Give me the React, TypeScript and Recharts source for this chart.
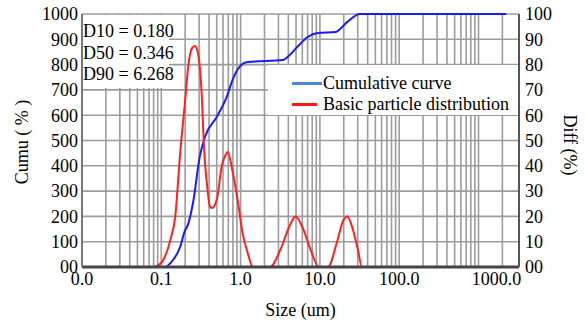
import { Customized, Legend, Line, LineChart, ReferenceLine, XAxis, YAxis } from "recharts";

// particle size (um) vs cumulative (left axis, 0-1000)
const cumSizes = [0.0207, 0.112, 0.13, 0.173, 0.2, 0.211, 0.251, 0.307, 0.355, 0.5, 0.668, 0.79, 0.97, 1.23, 3.45, 3.9, 5.2, 7.0, 9.4, 15.8, 22, 32, 2240];
const cumValues = [0, 0, 15, 80, 146, 158, 253, 440, 514, 593, 672, 739, 791, 810, 818, 830, 870, 909, 925, 929, 968, 1000, 1000];

// particle size (um) vs differential (right axis, 0-100)
const diffSizes = [0.084, 0.106, 0.13, 0.15, 0.173, 0.2, 0.218, 0.244, 0.266, 0.29, 0.326, 0.345, 0.376, 0.41, 0.434, 0.5, 0.58, 0.668, 0.688, 0.79, 0.917, 1.06, 1.23, 1.43, 2.35, 3.16, 4.25, 4.92, 6.23, 7.67, 9.7, 12.6, 16.7, 19.8, 22.2, 25.5, 30.2, 33.9, 2240];
const diffValues = [0, 2.8, 10.7, 20, 45, 66, 79, 86.5, 87.4, 84.5, 66, 47.5, 33, 24, 23.3, 26.5, 40, 45, 45.5, 38, 26.5, 13.4, 5.5, 0, 0, 6.7, 17, 20, 14.6, 6.7, 0, 0, 10.7, 18.6, 20, 15.8, 6.7, 0, 0];

const seriesNames = ["Cumulative curve", "Basic particle distribution"];
const legendIconColors = ["#4a86e0", "#ff1a1a"];
const sizeTicks = [0.01, 0.1, 1, 10, 100, 1000];
const cumTicks = [0, 100, 200, 300, 400, 500, 600, 700, 800, 900, 1000];
const diffTicks = [0, 10, 20, 30, 40, 50, 60, 70, 80, 90, 100];
const gridSizes = [
  0.02, 0.03, 0.04, 0.05, 0.06, 0.07, 0.08, 0.09, 0.1,
  0.2, 0.3, 0.4, 0.5, 0.6, 0.7, 0.8, 0.9, 1,
  2, 3, 4, 5, 6, 7, 8, 9, 10,
  20, 30, 40, 50, 60, 70, 80, 90, 100,
  200, 300, 400, 500, 600, 700, 800, 900, 1000, 2000,
];
const dLines = ["D10 = 0.180", "D50 = 0.346", "D90 = 6.268"];

const cumData = cumSizes.map((size, i) => ({ size, v: cumValues[i] }));
const diffData = diffSizes.map((size, i) => ({ size, v: diffValues[i] }));

const FONT = '"Liberation Serif", "Times New Roman", serif';
const tickStyle = { fill: "#000", fontSize: 18, fontFamily: FONT };
const GRID = "#9c9c9c";
const zeroFmt = (v: number) => (v === 0 ? "00" : String(v));

function SizeTick({ x, y, payload }: any) {
  // last label sits further right in the original
  const shift = payload.value === 1000 ? 18 : 0;
  return (
    <text x={x + shift} y={y} dy="0.71em" textAnchor="middle" {...tickStyle}>
      {Number(payload.value).toFixed(1)}
    </text>
  );
}

function Titles() {
  return (
    <g fontFamily={FONT} fontSize={18} fill="#000">
      <text x={22} y={142} transform="rotate(-90 22 142)" textAnchor="middle" dominantBaseline="central">
        Cumu ( % )
      </text>
      <text x={570} y={145} transform="rotate(90 570 145)" textAnchor="middle" dominantBaseline="central">
        Diff (%)
      </text>
    </g>
  );
}

function LegendBox() {
  return (
    <div style={{ background: "#fff", height: 50, paddingTop: 8, boxSizing: "border-box", fontFamily: FONT, fontSize: 18, color: "#000" }}>
      {seriesNames.map((name, i) => (
        <div key={name} style={{ display: "flex", alignItems: "center", height: 21, whiteSpace: "nowrap" }}>
          <span style={{ display: "inline-block", width: 31, marginLeft: 24 }}>
            <span style={{ display: "block", width: i === 0 ? 30 : 25, height: 3, background: legendIconColors[i] }} />
          </span>
          <span>{name}</span>
        </div>
      ))}
    </div>
  );
}

export default function App() {
  return (
    <div style={{ position: "absolute", left: 0, top: 0, width: 585, height: 322, background: "#fff" }}>
      <LineChart width={585} height={322} margin={{ top: 14, right: 0, bottom: 0, left: 0 }}>
        <XAxis
          dataKey="size"
          type="number"
          scale="log"
          domain={[0.01, 3240]}
          ticks={sizeTicks}
          interval={0}
          height={55}
          tickSize={0}
          tickMargin={5}
          tick={<SizeTick />}
          axisLine={{ stroke: "#444", strokeWidth: 3 }}
          label={{ value: "Size (um)", position: "insideBottom", offset: 6, fill: "#000", fontSize: 18, fontFamily: FONT }}
        />
        <YAxis
          yAxisId="left"
          domain={[0, 1000]}
          ticks={cumTicks}
          interval={0}
          width={82}
          tickSize={0}
          tickMargin={4}
          tick={tickStyle}
          tickFormatter={zeroFmt}
          axisLine={{ stroke: "#777", strokeWidth: 2 }}
        />
        <YAxis
          yAxisId="right"
          orientation="right"
          domain={[0, 100]}
          ticks={diffTicks}
          interval={0}
          width={66}
          tickSize={0}
          tickMargin={6}
          tick={tickStyle}
          tickFormatter={zeroFmt}
          axisLine={{ stroke: "#555", strokeWidth: 2 }}
        />
        {cumTicks.map((t) => (
          <ReferenceLine key={`h${t}`} yAxisId="left" y={t} stroke={GRID} strokeWidth={1.6} />
        ))}
        {gridSizes.map((s) => (
          <ReferenceLine key={`v${s}`} yAxisId="left" x={s} stroke={GRID} strokeWidth={1.6} />
        ))}
        <Line
          yAxisId="left"
          data={cumData}
          dataKey="v"
          name={seriesNames[0]}
          type="monotone"
          stroke="#1a1aff"
          strokeWidth={2}
          dot={false}
          isAnimationActive={false}
        />
        <Line
          yAxisId="right"
          data={diffData}
          dataKey="v"
          name={seriesNames[1]}
          type="monotone"
          stroke="#ff2020"
          strokeWidth={2}
          dot={false}
          isAnimationActive={false}
        />
        <Legend
          layout="vertical"
          align="center"
          verticalAlign="middle"
          content={<LegendBox />}
          wrapperStyle={{ left: 268, top: 65, width: 250 }}
        />
        <Customized component={Titles} />
      </LineChart>
      <div
        style={{
          position: "absolute",
          left: 83,
          top: 15,
          width: 86,
          height: 73,
          background: "#fff",
          paddingTop: 6,
          boxSizing: "border-box",
          fontFamily: FONT,
          fontSize: 18,
          lineHeight: "21.5px",
          color: "#000",
          whiteSpace: "nowrap",
        }}
      >
        {dLines.map((t) => (
          <div key={t}>{t}</div>
        ))}
      </div>
    </div>
  );
}
